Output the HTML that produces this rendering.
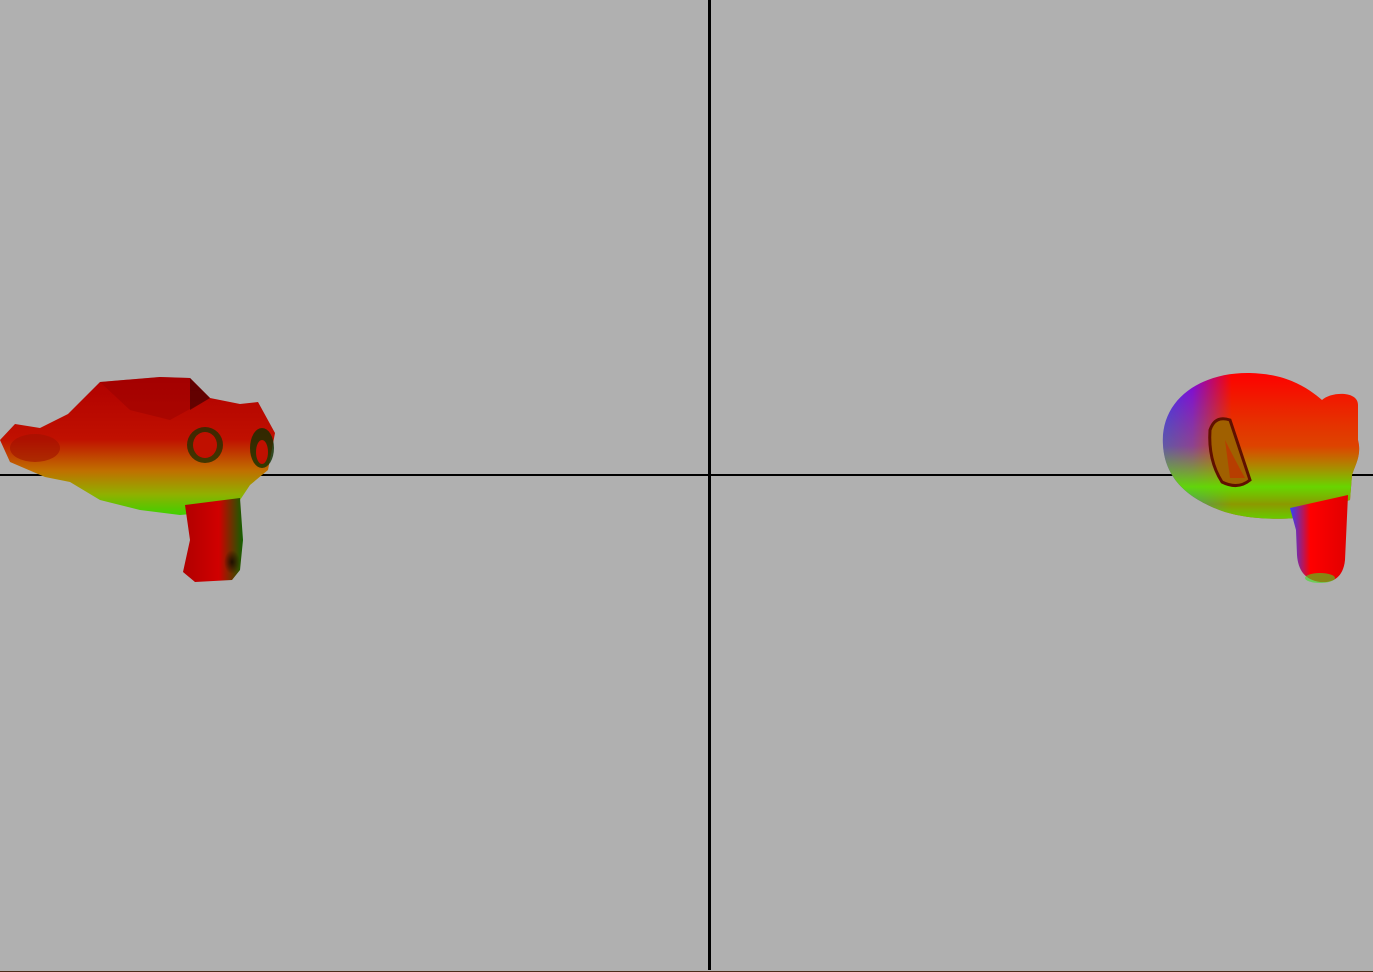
<!DOCTYPE html>
<html><head><meta charset="utf-8"><style>
html,body{margin:0;padding:0;background:#b0b0b0;}
svg{display:block;}
</style></head><body>
<svg width="1373" height="972" viewBox="0 0 1373 972">
<defs>
<linearGradient id="lg" x1="0" y1="0" x2="0" y2="1">
<stop offset="0" stop-color="#b00000"/><stop offset="0.45" stop-color="#c01000"/><stop offset="0.68" stop-color="#c07000"/><stop offset="0.85" stop-color="#90b000"/><stop offset="1" stop-color="#40d000"/>
</linearGradient>
<linearGradient id="ls" x1="0" y1="0" x2="1" y2="0">
<stop offset="0" stop-color="#b00000"/><stop offset="0.6" stop-color="#d00000"/><stop offset="1" stop-color="#106000"/>
</linearGradient>
<linearGradient id="rg" x1="0" y1="0" x2="1" y2="0">
<stop offset="0" stop-color="#4020ff"/><stop offset="0.15" stop-color="#8000e0"/><stop offset="0.35" stop-color="#ff0000"/><stop offset="1" stop-color="#ff0000"/>
</linearGradient>
<linearGradient id="rgv" x1="0" y1="0" x2="0" y2="1">
<stop offset="0" stop-color="#80e000" stop-opacity="0"/><stop offset="0.5" stop-color="#a0c000" stop-opacity="0.35"/><stop offset="0.78" stop-color="#60e000" stop-opacity="0.95"/><stop offset="0.9" stop-color="#40ff00" stop-opacity="0.6"/><stop offset="1" stop-color="#40ff00" stop-opacity="0.8"/>
</linearGradient>
<linearGradient id="rs" x1="0" y1="0" x2="1" y2="0">
<stop offset="0" stop-color="#3040ff"/><stop offset="0.35" stop-color="#ff0000"/><stop offset="1" stop-color="#e00000"/>
</linearGradient>
<radialGradient id="dark" cx="0.5" cy="0.5" r="0.5"><stop offset="0" stop-color="#000" stop-opacity="0.7"/><stop offset="1" stop-color="#000" stop-opacity="0"/></radialGradient>
</defs>
<rect x="0" y="0" width="1373" height="972" fill="#b0b0b0"/>
<rect x="708" y="0" width="3" height="970" fill="#000"/>
<rect x="0" y="474" width="1373" height="2" fill="#000"/>
<rect x="0" y="971" width="1373" height="1" fill="#4a2a1a"/>
<g>
<polygon fill="url(#lg)" points="0,440 15,424 40,428 68,414 100,382 160,377 190,378 210,398 240,404 258,402 275,433 268,470 250,485 240,500 235,510 180,515 140,510 100,500 70,482 45,477 10,462"/>
<polygon fill="url(#ls)" points="185,505 240,498 243,540 240,570 232,580 195,582 183,572 190,540"/>
<path d="M100,382 L160,377 190,378 210,398 170,420 130,410 Z" fill="#900000" opacity="0.4"/>
<path d="M190,378 L210,398 190,410 Z" fill="#200000" opacity="0.5"/>
<ellipse cx="205" cy="445" rx="18" ry="18" fill="#203000" opacity="0.8"/>
<ellipse cx="205" cy="445" rx="12" ry="13" fill="#c01000"/>
<ellipse cx="262" cy="448" rx="12" ry="20" fill="#103000" opacity="0.8"/>
<ellipse cx="262" cy="452" rx="6" ry="12" fill="#c01000"/>
<ellipse cx="232" cy="562" rx="8" ry="12" fill="url(#dark)"/>
<ellipse cx="35" cy="448" rx="25" ry="14" fill="#a01000" opacity="0.6"/>
</g>
<g>
<path fill="url(#rg)" d="M1163,445 C1160,400 1200,372 1250,373 C1290,374 1310,390 1322,400 C1330,392 1358,390 1358,405 L1358,440 C1362,455 1355,465 1352,475 L1350,500 L1296,518 C1270,520 1245,518 1225,512 C1190,500 1165,480 1163,445 Z"/>
<path fill="url(#rgv)" d="M1163,445 C1160,400 1200,372 1250,373 C1290,374 1310,390 1322,400 C1330,392 1358,390 1358,405 L1358,440 C1362,455 1355,465 1352,475 L1350,500 L1296,518 C1270,520 1245,518 1225,512 C1190,500 1165,480 1163,445 Z"/>
<path fill="url(#rs)" d="M1290,508 L1348,495 L1345,560 C1343,580 1330,583 1320,582 C1305,580 1298,570 1297,555 L1296,530 Z"/>
<ellipse cx="1320" cy="578" rx="15" ry="5" fill="#40e020" opacity="0.6"/>
<path d="M1210,430 Q1215,415 1230,420 Q1240,450 1250,480 Q1238,490 1222,482 Q1208,460 1210,430 Z" fill="#a06000" stroke="#601000" stroke-width="3"/>
<path d="M1225,440 Q1235,460 1245,478 L1230,478 Z" fill="#c03000" opacity="0.7"/>
</g>
</svg>
</body></html>
